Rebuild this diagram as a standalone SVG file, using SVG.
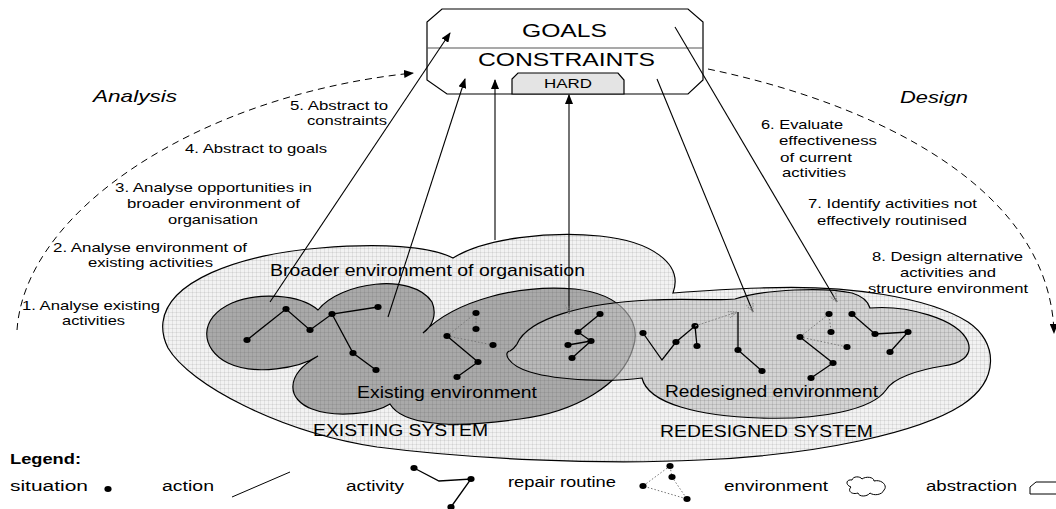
<svg xmlns="http://www.w3.org/2000/svg" width="1056" height="509" viewBox="0 0 1056 509">
  <style>
    text { font-family: "Liberation Sans", Arial, sans-serif; fill: #000; }
    .step { font-size: 13px; }
    .big { font-size: 17px; }
    .sys { font-size: 16px; }
    .phase { font-size: 17px; font-style: italic; }
    .leg { font-size: 14px; }
    .edge { fill: none; stroke: #000; stroke-width: 1.1; }
    .act { fill: none; stroke: #000; stroke-width: 1.3; }
    .rep { fill: none; stroke: #777; stroke-width: 1; stroke-dasharray: 1.5 2; }
    .dash { fill: none; stroke: #000; stroke-width: 1; stroke-dasharray: 7 5; }
    .outline { stroke: #000; stroke-width: 1.2; }
  </style>
  <defs>
    <pattern id="grid" width="4" height="4" patternUnits="userSpaceOnUse">
      <path d="M0 0.5H4M0.5 0V4" fill="none" stroke="#000" stroke-opacity="0.07" stroke-width="1"/>
    </pattern>
    <ellipse id="dot" cx="0" cy="0" rx="3.6" ry="3"/>
    <marker id="tip" markerWidth="10" markerHeight="8" refX="9" refY="4" orient="auto" markerUnits="userSpaceOnUse">
      <path d="M0,0 L10,4 L0,8 Z" fill="#000"/>
    </marker>
    <marker id="tipGray" markerWidth="10" markerHeight="8" refX="9" refY="4" orient="auto-start-reverse" markerUnits="userSpaceOnUse">
      <path d="M0.5,0.5 L9,4 L0.5,7.5 M9,4 L1,4" fill="none" stroke="#888" stroke-width="1" stroke-dasharray="1.5 1"/>
    </marker>
    <path id="outerShape" d="M163,322 C168,282 235,255 320,248 C380,243 430,246 453,258 C485,238 550,231 600,236 C650,241 684,263 673,293 C700,291 730,289 760,288 C850,284 930,298 968,322 C998,342 1000,380 962,405 C920,432 820,455 700,460 C600,465 470,459 377,447 C280,432 190,385 168,348 C163,338 162,330 163,322 Z"/>
    <path id="existingShape" d="M318,310 C340,282 412,272 432,302 C437,314 433,326 423,333 C455,300 520,284 575,289 C622,294 642,322 633,348 C622,385 575,412 520,419 C490,423 455,426 433,423 C415,421 397,416 390,404 C375,414 335,418 312,409 C288,400 283,376 318,356 C300,368 255,376 228,363 C200,349 198,318 232,303 C258,292 300,294 318,310 Z"/>
    <path id="redesignShape" d="M517,344 C528,318 585,303 650,300 C690,298 715,301 735,299 C765,289 825,287 852,293 C862,296 868,301 870,308 C905,305 958,318 968,342 C973,356 960,364 943,366 C918,370 893,378 886,390 C872,410 820,420 760,418 C700,416 648,404 642,378 C612,382 560,381 530,372 C507,365 503,352 510,351 C514,349 515,347 517,344 Z"/>
  </defs>

  <rect width="1056" height="509" fill="#fff"/>

  <!-- broader environment of organisation / system outline -->
  <g id="system">
    <use href="#outerShape" fill="#f2f2f2" class="outline"/>
    <use href="#outerShape" fill="url(#grid)"/>
    <text class="big" x="270" y="276" textLength="315" lengthAdjust="spacingAndGlyphs">Broader environment of organisation</text>
    <text class="sys" x="313" y="436" textLength="175" lengthAdjust="spacingAndGlyphs">EXISTING SYSTEM</text>
    <text class="sys" x="660" y="437" textLength="213" lengthAdjust="spacingAndGlyphs">REDESIGNED SYSTEM</text>
  </g>

  <!-- existing environment -->
  <g id="existing-environment">
    <use href="#existingShape" fill="#a9a9a9" class="outline"/>
    <use href="#existingShape" fill="url(#grid)"/>
  </g>

  <!-- redesigned environment, translucent over the existing one -->
  <g id="redesigned-environment">
    <use href="#redesignShape" fill="#c2c2c2" fill-opacity="0.62" class="outline"/>
    <use href="#redesignShape" fill="url(#grid)"/>
  </g>

  <text class="big" x="357" y="398" textLength="180" lengthAdjust="spacingAndGlyphs">Existing environment</text>
  <text class="big" x="665" y="397" textLength="213" lengthAdjust="spacingAndGlyphs">Redesigned environment</text>

  <!-- activities: situations joined by actions -->
  <g id="activities">
    <polyline class="act" points="247,340 286,309 310,330 332,314 378,307"/>
    <polyline class="act" points="332,314 353,353 376,370"/>
    <polyline class="act" points="447,336 478,362 457,377"/>
    <polyline class="rep" points="447,336 476,313 476,329"/>
    <line class="rep" x1="447" y1="336" x2="493" y2="345"/>
    <polyline class="act" points="600,314 578,332 591,341 572,358"/>
    <line class="act" x1="568" y1="345" x2="591" y2="341"/>
    <polyline class="act" points="643,333 662,360 676,342 695,326 697,346"/>
    <polyline class="act" points="738,312 738,350 762,371"/>
    <polyline class="act" points="800,337 833,363 811,378"/>
    <polyline class="rep" points="800,337 829,314 831,332"/>
    <line class="rep" x1="800" y1="337" x2="847" y2="347"/>
    <line class="act" x1="852" y1="314" x2="875" y2="334" stroke-width="2"/>
    <polyline class="act" points="875,334 908,332 890,352"/>
    <g fill="#000">
      <use href="#dot" x="247" y="340"/><use href="#dot" x="286" y="309"/><use href="#dot" x="310" y="330"/>
      <use href="#dot" x="332" y="314"/><use href="#dot" x="378" y="307"/><use href="#dot" x="353" y="353"/>
      <use href="#dot" x="376" y="370"/>
      <use href="#dot" x="447" y="336"/><use href="#dot" x="476" y="313"/><use href="#dot" x="476" y="329"/>
      <use href="#dot" x="493" y="345"/><use href="#dot" x="478" y="362"/><use href="#dot" x="457" y="377"/>
      <use href="#dot" x="600" y="314"/><use href="#dot" x="578" y="332"/><use href="#dot" x="591" y="341"/>
      <use href="#dot" x="568" y="345"/><use href="#dot" x="572" y="358"/>
      <use href="#dot" x="643" y="333"/><use href="#dot" x="676" y="342"/><use href="#dot" x="695" y="326"/>
      <use href="#dot" x="697" y="346"/><use href="#dot" x="738" y="350"/><use href="#dot" x="762" y="371"/>
      <use href="#dot" x="829" y="314"/><use href="#dot" x="831" y="332"/><use href="#dot" x="800" y="337"/>
      <use href="#dot" x="847" y="347"/><use href="#dot" x="833" y="363"/><use href="#dot" x="811" y="378"/>
      <use href="#dot" x="852" y="314"/><use href="#dot" x="875" y="334"/><use href="#dot" x="908" y="332"/>
      <use href="#dot" x="890" y="352"/>
    </g>
  </g>

  <!-- goals / constraints abstraction -->
  <g id="goals-constraints">
    <polygon points="442,9 688,9 703,22 703,80 688,94 447,94 427,80 427,22" fill="#fff" class="outline"/>
    <line x1="427" y1="48" x2="703" y2="48" stroke="#555" stroke-width="1.2"/>
    <text x="522" y="37" font-size="18" textLength="85" lengthAdjust="spacingAndGlyphs">GOALS</text>
    <text x="478" y="66" font-size="19" textLength="177" lengthAdjust="spacingAndGlyphs">CONSTRAINTS</text>
  </g>
  <g id="hard">
    <polygon points="512,94 512,79 518,73 618,73 624,80 624,94" fill="#e4e4e4" class="outline"/>
    <text x="544" y="88" font-size="13" textLength="48" lengthAdjust="spacingAndGlyphs">HARD</text>
  </g>

  <!-- abstraction and design connectors -->
  <g id="connectors">
    <path class="dash" d="M17,330 C25,210 200,95 413,73" marker-end="url(#tip)"/>
    <path class="dash" d="M708,69 C880,105 1050,190 1054,333" marker-end="url(#tip)"/>
    <line class="edge" x1="270" y1="302" x2="450" y2="33" marker-end="url(#tip)"/>
    <line class="edge" x1="388" y1="317" x2="465" y2="79" marker-end="url(#tip)"/>
    <line class="edge" x1="495" y1="240" x2="495" y2="80" marker-end="url(#tip)"/>
    <line class="edge" x1="569" y1="314" x2="569" y2="95" marker-start="url(#tipGray)" marker-end="url(#tip)"/>
    <line class="edge" x1="657" y1="79" x2="753" y2="312" marker-end="url(#tipGray)"/>
    <line class="edge" x1="675" y1="27" x2="837" y2="302" marker-end="url(#tipGray)"/>
    <line x1="695" y1="326" x2="737" y2="312" stroke="#888" stroke-width="1" stroke-dasharray="2 1.5" marker-end="url(#tipGray)"/>
  </g>

  <!-- phase and step labels -->
  <g id="analysis-labels">
    <text class="phase" x="93" y="102" textLength="84" lengthAdjust="spacingAndGlyphs">Analysis</text>
    <text class="step" x="290" y="110" textLength="98" lengthAdjust="spacingAndGlyphs">5. Abstract to</text>
    <text class="step" x="307" y="125" textLength="80" lengthAdjust="spacingAndGlyphs">constraints</text>
    <text class="step" x="185" y="153" textLength="142" lengthAdjust="spacingAndGlyphs">4. Abstract to goals</text>
    <text class="step" x="115" y="192" textLength="197" lengthAdjust="spacingAndGlyphs">3. Analyse opportunities in</text>
    <text class="step" x="127" y="208" textLength="173" lengthAdjust="spacingAndGlyphs">broader environment of</text>
    <text class="step" x="168" y="224" textLength="90" lengthAdjust="spacingAndGlyphs">organisation</text>
    <text class="step" x="53" y="252" textLength="194" lengthAdjust="spacingAndGlyphs">2. Analyse environment of</text>
    <text class="step" x="88" y="267" textLength="125" lengthAdjust="spacingAndGlyphs">existing activities</text>
    <text class="step" x="22" y="310" textLength="138" lengthAdjust="spacingAndGlyphs">1. Analyse existing</text>
    <text class="step" x="62" y="325" textLength="63" lengthAdjust="spacingAndGlyphs">activities</text>
  </g>
  <g id="design-labels">
    <text class="phase" x="900" y="103" textLength="68" lengthAdjust="spacingAndGlyphs">Design</text>
    <text class="step" x="761" y="129" textLength="82" lengthAdjust="spacingAndGlyphs">6. Evaluate</text>
    <text class="step" x="779" y="145" textLength="98" lengthAdjust="spacingAndGlyphs">effectiveness</text>
    <text class="step" x="780" y="162" textLength="72" lengthAdjust="spacingAndGlyphs">of current</text>
    <text class="step" x="782" y="177" textLength="64" lengthAdjust="spacingAndGlyphs">activities</text>
    <text class="step" x="808" y="208" textLength="169" lengthAdjust="spacingAndGlyphs">7. Identify activities not</text>
    <text class="step" x="817" y="225" textLength="150" lengthAdjust="spacingAndGlyphs">effectively routinised</text>
    <text class="step" x="872" y="261" textLength="151" lengthAdjust="spacingAndGlyphs">8. Design alternative</text>
    <text class="step" x="900" y="277" textLength="96" lengthAdjust="spacingAndGlyphs">activities and</text>
    <text class="step" x="868" y="293" textLength="160" lengthAdjust="spacingAndGlyphs">structure environment</text>
  </g>

  <!-- legend -->
  <g id="legend">
    <text x="10" y="464" font-size="14" font-weight="bold" textLength="71" lengthAdjust="spacingAndGlyphs">Legend:</text>
    <text class="leg" x="10" y="491" textLength="78" lengthAdjust="spacingAndGlyphs">situation</text>
    <use href="#dot" x="108" y="489" fill="#000"/>
    <text class="leg" x="162" y="491" textLength="52" lengthAdjust="spacingAndGlyphs">action</text>
    <line x1="232" y1="497" x2="290" y2="472" stroke="#000" stroke-width="1"/>
    <text class="leg" x="346" y="491" textLength="58" lengthAdjust="spacingAndGlyphs">activity</text>
    <polyline class="act" stroke-width="1" points="414,468 439,481 471,479 451,507"/>
    <use href="#dot" x="414" y="468" fill="#000"/><use href="#dot" x="471" y="479" fill="#000"/><use href="#dot" x="451" y="507" fill="#000"/>
    <text class="leg" x="508" y="487" textLength="108" lengthAdjust="spacingAndGlyphs">repair routine</text>
    <polyline class="rep" points="670,466 643,486 687,499 672,477 670,466"/>
    <use href="#dot" x="670" y="466" fill="#000"/><use href="#dot" x="672" y="477" fill="#000"/>
    <use href="#dot" x="643" y="486" fill="#000"/><use href="#dot" x="687" y="499" fill="#000"/>
    <text class="leg" x="724" y="491" textLength="104" lengthAdjust="spacingAndGlyphs">environment</text>
    <path d="M851,487 C845,485 846,479 852,480 C853,476 860,476 862,479 C866,476 874,477 874,481 C882,479 888,486 884,490 C882,495 874,496 870,493 C867,497 859,497 858,493 C852,495 847,491 851,487 Z" fill="#fff" stroke="#000" stroke-width="1"/>
    <text class="leg" x="926" y="491" textLength="91" lengthAdjust="spacingAndGlyphs">abstraction</text>
    <path d="M1058,482 L1036,482 L1030,487 L1030,494 L1058,494" fill="#fff" stroke="#000" stroke-width="1"/>
  </g>
</svg>
